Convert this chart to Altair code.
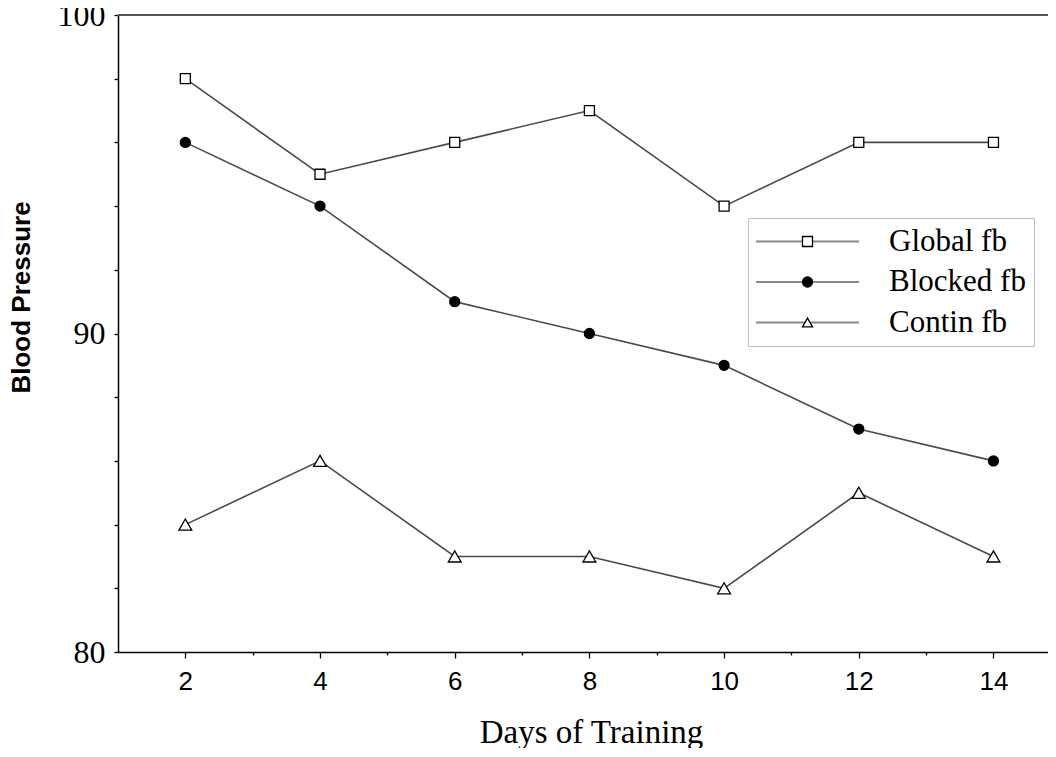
import altair as alt
import pandas as pd

days = [2, 4, 6, 8, 10, 12, 14]
series_names = ["Global fb", "Blocked fb", "Contin fb"]
series_codes = ["s0", "s1", "s2"]
global_fb = [98, 95, 96, 97, 94, 96, 96]
blocked_fb = [96, 94, 91, 90, 89, 87, 86]
contin_fb = [84, 86, 83, 83, 82, 85, 83]
marker_shapes = ["square", "circle", "triangle-up"]
marker_fills = ["white", "black", "white"]
y_tick_values = [80, 82, 84, 86, 88, 90, 92, 94, 96, 98, 100]
x_tick_values = [2, 3, 4, 5, 6, 7, 8, 9, 10, 11, 12, 13, 14]

rows = []
for name, code, vals in zip(series_names, series_codes, [global_fb, blocked_fb, contin_fb]):
    for d, v in zip(days, vals):
        rows.append({"day": d, "value": v, "series": name, "code": code})
df = pd.DataFrame(rows)

x_scale = alt.Scale(domain=[1, 14.81], nice=False, zero=False)
y_scale = alt.Scale(domain=[80, 100], nice=False, zero=False)

x_axis = alt.Axis(
    values=x_tick_values,
    format="d",
    labelExpr="datum.value % 2 == 0 ? datum.label : ''",
    tickSize={"condition": {"test": "datum.value % 2 == 0", "value": 6}, "value": 3},
    tickColor="black", tickWidth=1.3,
    domainColor="black", domainWidth=1.5,
    grid=False,
    labelFont="Liberation Sans", labelFontSize=26, labelColor="black",
    labelBaseline="alphabetic", labelPadding=31,
    labelFlush=False, labelOverlap=False,
    titleFont="Liberation Serif", titleFontSize=33, titleFontWeight="normal",
    titleColor="black", titleBaseline="alphabetic", titleX=473, titleY=90,
)
y_axis = alt.Axis(
    values=y_tick_values,
    labelExpr="datum.value % 10 == 0 ? datum.label : ''",
    tickSize=4, tickColor="black", tickWidth=1.3,
    domainColor="black", domainWidth=1.5,
    grid=False,
    labelFont="Liberation Serif", labelFontSize=32, labelColor="black",
    labelPadding=9, labelFlush=False, labelOverlap=False,
    titleFont="Liberation Sans", titleFontSize=26, titleFontWeight="bold",
    titleColor="black", titleX=-84, titleY=282,
)

base = alt.Chart(df)

lines = base.mark_line(color="#4a4a4a", strokeWidth=1.6).encode(
    x=alt.X("day:Q", scale=x_scale, axis=x_axis, title="Days of Training"),
    y=alt.Y("value:Q", scale=y_scale, axis=y_axis, title="Blood Pressure"),
    detail="series:N",
)

legend_x = 630
legend_y = 203

legend_lines = base.mark_line(strokeWidth=2).encode(
    x="day:Q",
    y="value:Q",
    color=alt.Color(
        "series:N",
        scale=alt.Scale(domain=series_names, range=["#888888"] * 3),
        legend=alt.Legend(
            title=None, orient="none", legendX=legend_x, legendY=legend_y,
            direction="vertical",
            symbolType="M-10.3,0H10.3", symbolSize=100, symbolStrokeWidth=2,
            symbolOffset=36, labelOffset=66,
            labelFont="Liberation Serif", labelFontSize=31, labelColor="black",
            rowPadding=8.5, padding=8,
            strokeColor="#c0c0c0", fillColor="white",
        ),
    ),
).transform_filter("false")

marker_legend = alt.Legend(
    title=None, orient="none", legendX=legend_x, legendY=legend_y,
    direction="vertical",
    symbolSize=100, symbolStrokeWidth=1.3,
    symbolOffset=36, labelOffset=66,
    labelFont="Liberation Serif", labelFontSize=31, labelOpacity=0,
    rowPadding=8.5, padding=8,
)

points = base.mark_point(filled=True, stroke="black", strokeWidth=1.3, size=100, opacity=1).encode(
    x="day:Q",
    y="value:Q",
    shape=alt.Shape(
        "code:N",
        scale=alt.Scale(domain=series_codes, range=marker_shapes),
        legend=marker_legend,
    ),
    fill=alt.Fill(
        "code:N",
        scale=alt.Scale(domain=series_codes, range=marker_fills),
        legend=marker_legend,
    ),
).transform_filter(alt.datum.code != series_codes[2])

triangles = base.mark_point(
    shape="triangle-up", filled=True, fill="white", stroke="black",
    strokeWidth=1.3, size=165, opacity=1,
).encode(
    x="day:Q",
    y="value:Q",
).transform_filter(alt.datum.code == series_codes[2])

top_rule = alt.Chart(pd.DataFrame({"v": [100]})).mark_rule(color="#555555", strokeWidth=2).encode(
    y=alt.Y("v:Q", scale=y_scale)
)

chart = alt.layer(legend_lines, lines, top_rule, points, triangles).properties(
    width=930, height=637,
    autosize=alt.AutoSizeParams(type="none"),
    padding={"left": 110, "top": 7, "right": 0, "bottom": 96},
    background="white",
).configure_view(stroke=None)

chart.save("out.html", embed_options={"renderer": "svg", "actions": False})
